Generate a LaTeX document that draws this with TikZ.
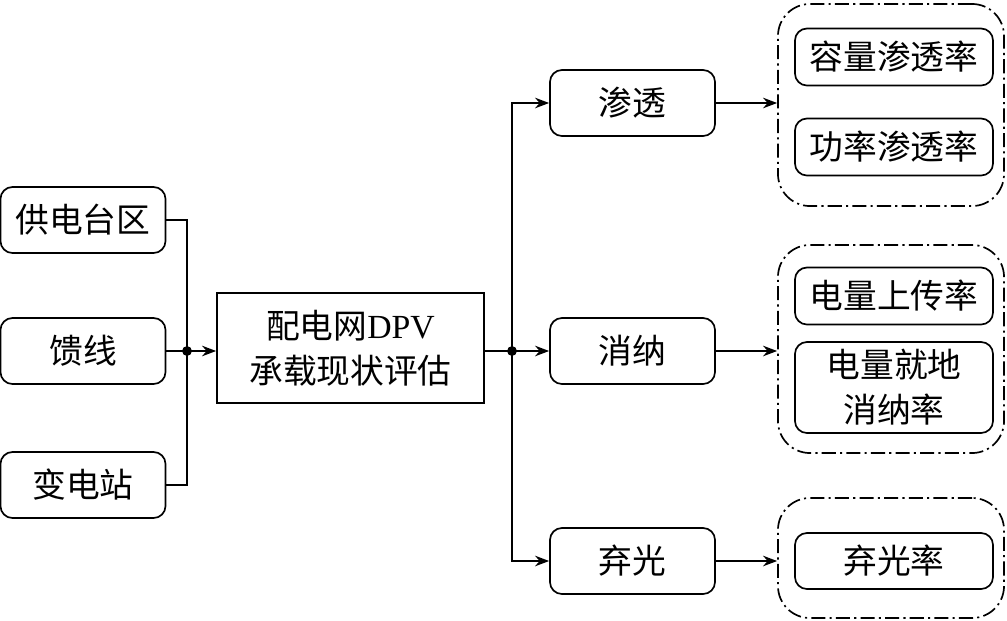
\documentclass[tikz,border=0pt]{standalone}
\usepackage{fontspec}
\setmainfont{Liberation Serif}
\newfontfamily\cjk{Noto Sans CJK SC}
\usetikzlibrary{arrows.meta}
\tikzset{
  rbox/.style={draw,rounded corners=0.3cm,minimum width=4.125cm,minimum height=1.65cm,inner sep=0pt},
  ibox/.style={draw,rounded corners=0.3cm,minimum width=4.95cm,minimum height=1.425cm,inner sep=0pt},
  grp/.style={draw,rounded corners=0.8cm,dash pattern=on 10pt off 3pt on 1.5pt off 3pt,inner sep=0pt},
  arr/.style={-{Stealth[length=10pt,width=7.5pt]}},
  dot/.style={circle,fill,inner sep=0pt,minimum size=7pt}
}
\begin{document}
\begin{tikzpicture}[x=0.025cm,y=-0.025cm,line width=1.2pt,
  font=\cjk\fontsize{24}{32}\selectfont]
                \useasboundingbox (0,0) rectangle (1007,620);
                % left side
                \node[rbox] (gdtq) at (83,220) {供电台区};
                \node[rbox] (kx) at (83,351) {馈线};
                \node[rbox] (bdz) at (83,485) {变电站};
                \node[draw,minimum width=6.675cm,minimum height=2.75cm,align=center,inner sep=0pt] (pg) at (350.5,348) {配电网\rmfamily DPV\\承载现状评估};
                \node[dot] (j1) at (187,351) {};
                \draw (gdtq.east) -| (j1.center) |- (bdz.east);
                \draw (kx.east) -- (j1.center);
                \draw[arr] (j1.center) -- (j1.center -| pg.west);
                % middle
                \node[rbox] (st) at (632.5,103) {渗透};
                \node[rbox] (xn) at (632.5,351) {消纳};
                \node[rbox] (qg) at (632.5,561) {弃光};
                \node[dot] (j2) at (512,351) {};
                \draw (pg.east |- j2) -- (j2.center);
                \draw[arr] (j2.center) |- (st.west);
                \draw[arr] (j2.center) -- (xn.west);
                \draw[arr] (j2.center) |- (qg.west);
                % right groups
                \node[grp,minimum width=5.65cm,minimum height=5.05cm] (g1) at (891,105) {};
                \node[grp,minimum width=5.65cm,minimum height=5.2cm] (g2) at (891,349) {};
                \node[grp,minimum width=5.65cm,minimum height=3cm] (g3) at (891,558) {};
                \node[ibox] (rl) at (894,57) {容量渗透率};
                \node[ibox] (gl) at (894,147) {功率渗透率};
                \node[ibox] (scl) at (894,296) {电量上传率};
                \node[ibox,minimum height=2.275cm,align=center] (jd) at (894,387.5) {电量就地\\消纳率};
                \node[ibox,minimum height=1.4cm] (qgl) at (894,561) {弃光率};
                \draw[arr] (st.east) -- (st.east -| g1.west);
                \draw[arr] (xn.east) -- (xn.east -| g2.west);
                \draw[arr] (qg.east) -- (qg.east -| g3.west);
            \end{tikzpicture}
\end{document}
